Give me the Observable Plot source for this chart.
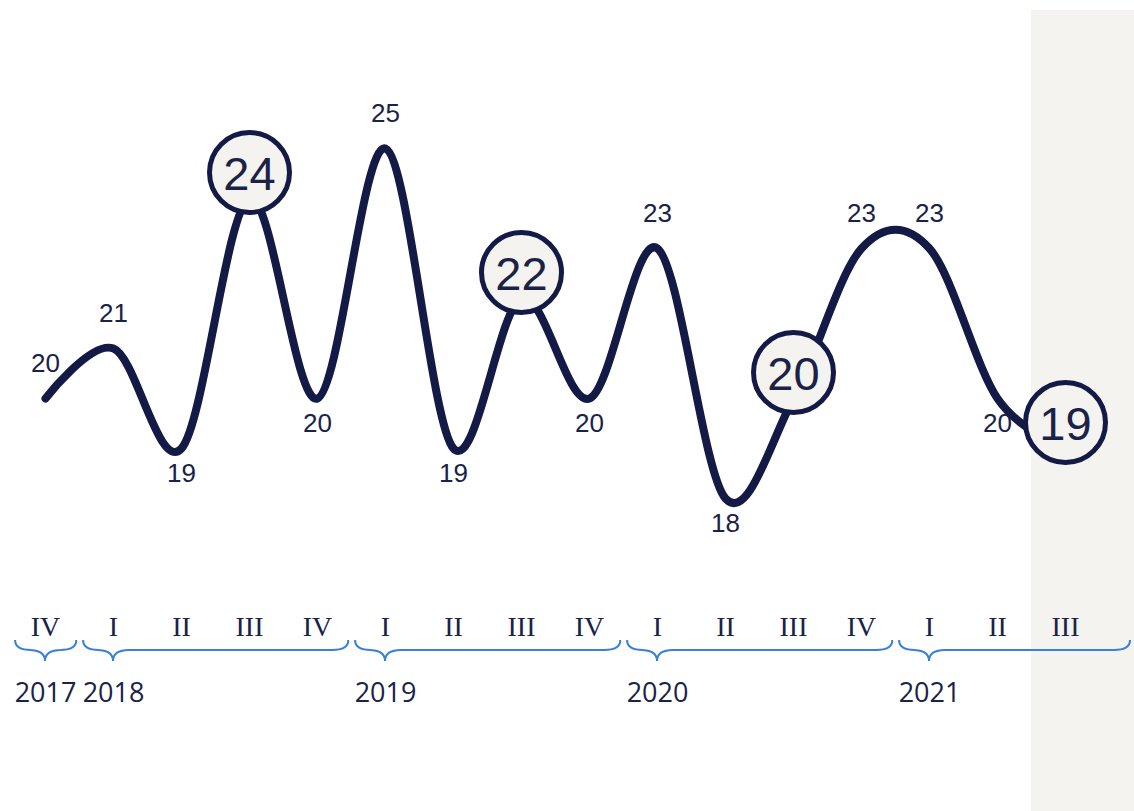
<!DOCTYPE html>
<html>
<head>
<meta charset="utf-8">
<script src="https://cdn.jsdelivr.net/npm/d3@7"></script>
<script src="https://cdn.jsdelivr.net/npm/@observablehq/plot@0.6"></script>
<style>
  html, body { margin: 0; padding: 0; background: #ffffff; }
  #chart svg { display: block; }
</style>
</head>
<body>
<div id="chart"></div>
<script>
// ---- data ----
const quarters = ["IV","I","II","III","IV","I","II","III","IV","I","II","III","IV","I","II","III"];
const years    = [2017,2018,2018,2018,2018,2019,2019,2019,2019,2020,2020,2020,2020,2021,2021,2021];
const values   = [20,21,19,24,20,25,19,22,20,23,18,20,23,23,20,19];
const highlightQuarter = "III";

const navy = "#121a45";
const textNavy = "#1a2248";
const beige = "#f4f3ef";
const braceBlue = "#3a80d9";

const data = values.map((v, i) => ({i, q: quarters[i], year: years[i], v}));
const isPeak = (d) => {
  const prev = d.i > 0 ? values[d.i - 1] : -Infinity;
  const next = d.i < values.length - 1 ? values[d.i + 1] : -Infinity;
  return d.i === 0 || (d.v >= prev && d.v >= next);
};
const plain = data.filter(d => d.q !== highlightQuarter);
const above = plain.filter(isPeak);
const below = plain.filter(d => !isPeak(d));
const highlighted = data.filter(d => d.q === highlightQuarter);
const yearGroups = d3.groups(data, d => d.year).map(([year, rows]) => ({
  year, first: rows[0].i, last: rows[rows.length - 1].i
}));
const lastIndex = values.length - 1;

const plot = Plot.plot({
  width: 1134,
  height: 811,
  marginLeft: 11,
  marginRight: 1,
  marginTop: 148,
  marginBottom: 313,
  x: {type: "linear", domain: [-0.5, 16], axis: null},
  y: {domain: [18, 25], axis: null},
  style: {background: "transparent", overflow: "visible"},
  marks: [
    Plot.line(data, {x: "i", y: "v", curve: "cardinal", stroke: navy, strokeWidth: 8, strokeLinecap: "round", strokeLinejoin: "round"}),
    Plot.text(above, {x: "i", y: "v", text: d => String(d.v), dy: -35, fontSize: 26, fontFamily: "Liberation Sans, Arial, sans-serif", fill: textNavy}),
    Plot.text(below, {x: "i", y: "v", text: d => String(d.v), dy: 25, fontSize: 26, fontFamily: "Liberation Sans, Arial, sans-serif", fill: textNavy}),
    Plot.dot(highlighted, {x: "i", y: "v", r: 40, dy: -26, fill: beige, stroke: navy, strokeWidth: 5}),
    Plot.text(highlighted, {x: "i", y: "v", text: d => String(d.v), dy: -24, fontSize: 47, fontFamily: "Liberation Sans, Arial, sans-serif", fill: textNavy}),
    Plot.text(data, {x: "i", text: "q", frameAnchor: "bottom", dy: 137, fontSize: 28, fontFamily: "Liberation Serif, serif", fill: textNavy}),
    Plot.text(yearGroups, {x: "first", text: d => String(d.year), frameAnchor: "bottom", dy: 203, fontSize: 27, fontFamily: "Open Sans, Noto Sans, sans-serif", fill: textNavy})
  ]
});

document.getElementById("chart").appendChild(plot);

// decorations placed through the x scale
const sx = plot.scale("x");
const X = v => sx.apply(v);
const svg = d3.select(plot);
// current-quarter band
svg.insert("rect", ":first-child")
  .attr("x", X(lastIndex - 0.5))
  .attr("y", 10)
  .attr("width", 1134 - X(lastIndex - 0.5))
  .attr("height", 801)
  .attr("fill", beige);

// year braces
const yTop = 640, yMid = 650, yTip = 661, r = 16;
yearGroups.forEach((g, k) => {
  const x0 = X(g.first - 0.44);
  const x1 = k === yearGroups.length - 1 ? 1130 : X(g.last + 0.46);
  const t = X(g.first);
  const p = d3.path();
  p.moveTo(x0, yTop);
  p.quadraticCurveTo(x0, yMid, x0 + r, yMid);
  p.lineTo(t - r, yMid);
  p.quadraticCurveTo(t, yMid, t, yTip);
  p.quadraticCurveTo(t, yMid, t + r, yMid);
  p.lineTo(x1 - r, yMid);
  p.quadraticCurveTo(x1, yMid, x1, yTop);
  svg.append("path").attr("d", p.toString()).attr("fill", "none")
    .attr("stroke", braceBlue).attr("stroke-width", 2);
});
</script>
</body>
</html>
